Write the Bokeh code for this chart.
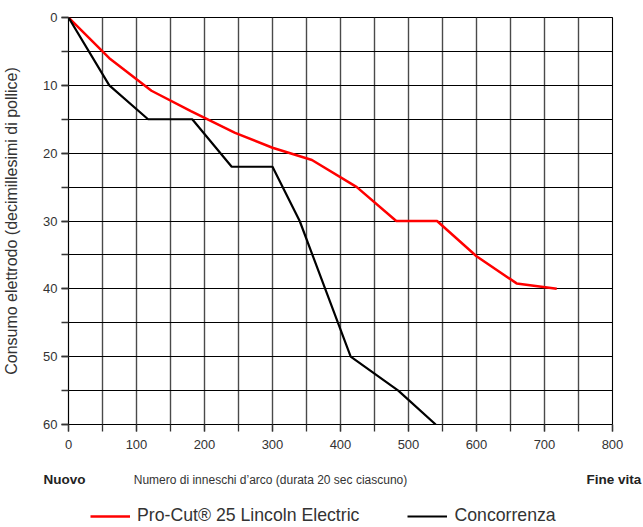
import math
from bokeh.plotting import figure
from bokeh.layouts import column, row
from bokeh.models import Range1d, FixedTicker, Label, Legend, LegendItem
from bokeh.embed import file_html
from bokeh.resources import INLINE

# ---- data ----
procut_x = [0, 60, 122, 180, 245, 300, 358, 424, 482, 542, 600, 659, 718]
procut_y = [0, 6, 10.8, 13.8, 17, 19.2, 21, 25, 30, 30, 35.2, 39.2, 40]
conc_x = [0, 60, 117, 182, 240, 300, 340, 415, 485, 540]
conc_y = [0, 10, 15, 15, 22, 22, 30, 50, 55, 60]

x_major = [0, 100, 200, 300, 400, 500, 600, 700, 800]
x_minor = [0, 50, 100, 150, 200, 250, 300, 350, 400, 450, 500, 550, 600, 650, 700, 750, 800]
y_major = [0, 10, 20, 30, 40, 50, 60]
y_minor = [0, 5, 10, 15, 20, 25, 30, 35, 40, 45, 50, 55, 60]

label_procut = "Pro-Cut® 25 Lincoln Electric"
label_conc = "Concorrenza"
x_title = "Numero di inneschi d\u2019arco (durata 20 sec ciascuno)"
y_title = "Consumo elettrodo (decimillesimi di pollice)"
left_note = "Nuovo"
right_note = "Fine vita"

FONT = "Liberation Sans"
TXT = "#333333"
RED = "#ff0000"
BLACK = "#000000"

# ---- main chart ----
p = figure(width=643, height=460, output_backend="svg", toolbar_location=None,
           x_range=Range1d(0, 800), y_range=Range1d(60, 0),
           min_border_left=68, min_border_right=31, min_border_top=17,
           min_border_bottom=36)
p.outline_line_color = BLACK
p.outline_line_width = 1.1
p.background_fill_color = "white"

p.xgrid.ticker = FixedTicker(ticks=x_minor)
p.ygrid.ticker = FixedTicker(ticks=y_minor)
p.xgrid.grid_line_color = "#4a4a4a"
p.xgrid.grid_line_width = 1.4
p.ygrid.grid_line_color = BLACK
p.ygrid.grid_line_width = 1.1

for ax in (p.xaxis[0], p.yaxis[0]):
    ax.axis_line_color = BLACK
    ax.axis_line_width = 1.1
    ax.major_tick_line_color = "#333333"
    ax.minor_tick_line_color = "#333333"
    ax.major_tick_in = 0
    ax.minor_tick_in = 0
    ax.major_tick_out = 7
    ax.minor_tick_out = 7
    ax.major_tick_line_width = 1.3
    ax.minor_tick_line_width = 1.3
    ax.major_label_text_font = FONT
    ax.major_label_text_font_size = "13px"
    ax.major_label_text_color = TXT
p.xaxis[0].ticker = FixedTicker(ticks=x_major, minor_ticks=x_minor)
p.yaxis[0].ticker = FixedTicker(ticks=y_major, minor_ticks=y_minor)
p.xaxis[0].major_label_standoff = 8
p.yaxis[0].major_label_standoff = 4
p.yaxis[0].axis_label = y_title
p.yaxis[0].axis_label_text_font = FONT
p.yaxis[0].axis_label_text_font_size = "16px"
p.yaxis[0].axis_label_text_font_style = "normal"
p.yaxis[0].axis_label_text_color = TXT
p.yaxis[0].axis_label_standoff = 20

p.line(procut_x, procut_y, line_color=RED, line_width=2.5)
p.line(conc_x, conc_y, line_color=BLACK, line_width=2.2)

# ---- bottom strip: axis title, notes, legend ----
q = figure(width=643, height=67, output_backend="svg", toolbar_location=None,
           x_range=Range1d(0, 643), y_range=Range1d(67, 0),
           x_axis_type=None, y_axis_type=None,
           min_border_left=0, min_border_right=0, min_border_top=0, min_border_bottom=0)
q.outline_line_color = None
q.grid.grid_line_color = None

q.add_layout(Label(x=270, y=19, text=x_title, text_align="center", text_baseline="middle",
                   text_font=FONT, text_font_size="12px", text_color=TXT))
q.add_layout(Label(x=43, y=19, text=left_note, text_align="left", text_baseline="middle",
                   text_font=FONT, text_font_size="13.5px", text_font_style="bold",
                   text_color="#222222"))
q.add_layout(Label(x=586, y=19, text=right_note, text_align="left", text_baseline="middle",
                   text_font=FONT, text_font_size="13.5px", text_font_style="bold",
                   text_color="#222222"))

s1 = q.line(x=[math.nan], y=[math.nan], line_color=RED, line_width=2.5)
s2 = q.line(x=[math.nan], y=[math.nan], line_color=BLACK, line_width=2.2)
legend = Legend(items=[LegendItem(label=label_procut, renderers=[s1]),
                       LegendItem(label=label_conc, renderers=[s2])],
                orientation="horizontal", location=(90, 1),
                glyph_width=40, glyph_height=12, label_height=12,
                label_standoff=7, spacing=48,
                padding=0, margin=0, border_line_color=None,
                background_fill_alpha=0,
                label_text_font=FONT, label_text_font_size="17.7px",
                label_text_color=TXT)
q.add_layout(legend, "center")

layout = column(p, row(q, spacing=0), spacing=0)
open("out.html", "w").write(file_html(layout, INLINE))
